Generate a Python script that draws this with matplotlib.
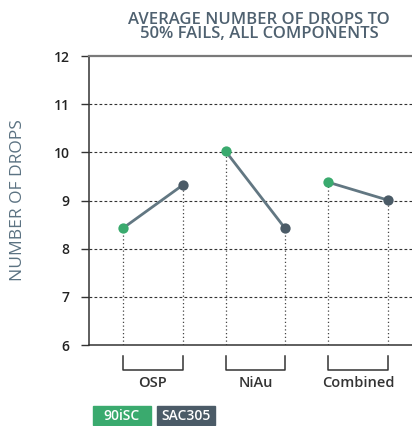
import matplotlib.pyplot as plt
from matplotlib.patches import Rectangle
from matplotlib.transforms import blended_transform_factory

plt.rcParams['font.family'] = ['Open Sans', 'DejaVu Sans']

groups = ["OSP", "NiAu", "Combined"]
series = ["90iSC", "SAC305"]
vals_90isc = [8.43, 10.02, 9.38]
vals_sac305 = [9.32, 8.42, 9.01]
yticks = [6, 7, 8, 9, 10, 11, 12]

GREEN = "#3aaa6e"
DARK = "#4b5b67"
LINE = "#627782"
TXT = "#4f6170"
OFF = 0.29

fig = plt.figure(figsize=(4.12, 4.26), dpi=100)
ax = fig.add_axes([0.216, 0.19, 0.784, 0.6785])

for i, g in enumerate(groups):
    xa, xb = i - OFF, i + OFF
    ya, yb = vals_90isc[i], vals_sac305[i]
    ax.vlines([xa, xb], 6, [ya, yb], colors="#444444", linestyles=(0, (1, 2)),
              linewidth=0.9, zorder=2)
    ax.plot([xa, xb], [ya, yb], color=LINE, lw=2, zorder=3)
    ax.scatter([xa], [ya], s=55, color=GREEN, zorder=4, linewidths=0)
    ax.scatter([xb], [yb], s=55, color=DARK, zorder=4, linewidths=0)

# grid
for y in yticks[1:-1]:
    ax.axhline(y, color="#333333", lw=0.8, ls=(0, (2.5, 2)), zorder=1)

ax.set_xlim(-0.624, 2.527)
ax.set_ylim(6, 12)
ax.set_yticks(yticks)
ax.set_yticklabels([str(t) for t in yticks], fontsize=10, color="#222222",
                   fontweight="semibold")
ax.tick_params(axis="y", length=6, width=1, color="#333333", pad=8)
ax.set_xticks([])

ax.spines["right"].set_visible(False)
ax.spines["top"].set_color("#7a7a7a")
ax.spines["top"].set_linewidth(1.6)
ax.spines["left"].set_color("#333333")
ax.spines["bottom"].set_color("#333333")
ax.spines["left"].set_linewidth(1.1)
ax.spines["bottom"].set_linewidth(1.1)

# group brackets below axis
tr = blended_transform_factory(ax.transData, ax.transAxes)
for i, g in enumerate(groups):
    xa, xb = i - OFF, i + OFF
    ax.plot([xa, xa, xb, xb], [-0.038, -0.0865, -0.0865, -0.038], color="#333333",
            lw=1.1, transform=tr, clip_on=False)
    ax.text(i, -0.131, g, transform=tr, ha="center", va="center",
            fontsize=10.5, color="#333333", fontweight="semibold")

ax.set_ylabel("NUMBER OF DROPS", fontsize=12.5, color="#5b7282")
ax.yaxis.set_label_coords(-0.195, 0.5)

fig.text(0.629, 0.937, "AVERAGE NUMBER OF DROPS TO\n50% FAILS, ALL COMPONENTS",
         ha="center", va="center", fontsize=12, color=TXT, linespacing=0.88,
         fontweight="semibold")

# legend boxes
for k, (lab, col) in enumerate(zip(series, [GREEN, DARK])):
    x0 = (93 + k * 64) / 412
    fig.patches.append(Rectangle((x0, 1 / 426), 58 / 412, 19 / 426,
                                 transform=fig.transFigure, color=col))
    fig.text(x0 + 29 / 412, 10.5 / 426, lab, ha="center", va="center",
             fontsize=10, color="white", fontweight="semibold")

fig.savefig("out.png", dpi=100)
